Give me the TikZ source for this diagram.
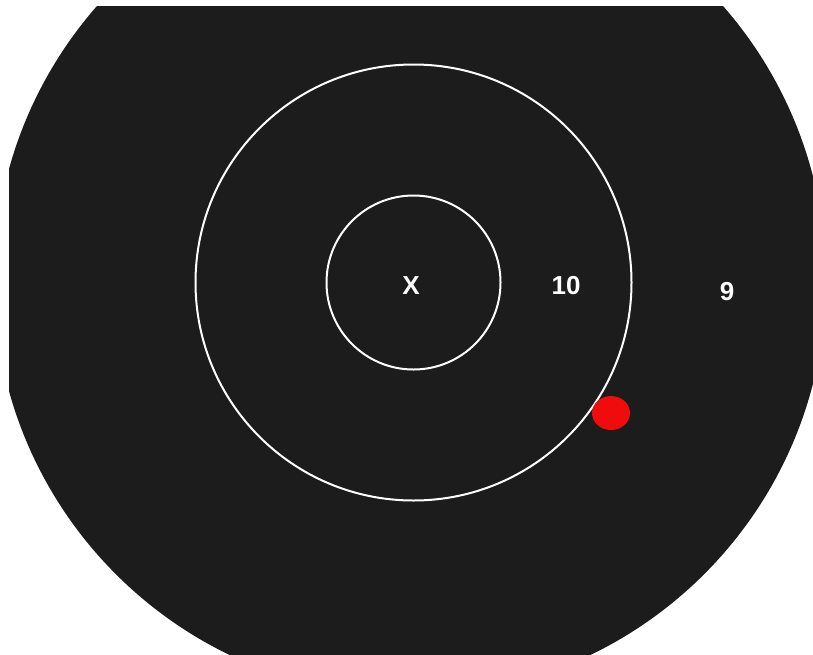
\documentclass[tikz,border=0pt]{standalone}
\usepackage{fontspec}
\setmainfont{Liberation Sans}
\definecolor{targetblack}{RGB}{28,28,28}
\definecolor{hitred}{RGB}{240,12,12}

\begin{document}
\begin{tikzpicture}[x=1pt, y=-1pt,
    ring/.style={draw=white, line width=2pt},
    score/.style={text=white, font=\fontsize{26}{26}\selectfont\bfseries, inner sep=0pt}]
    % Target face
    \useasboundingbox (0,0) rectangle (813,654);
    \fill[white] (0,0) rectangle (813,654);
    \begin{scope}
        \clip (9,6) rectangle (813,654);
        \fill[targetblack] (410,280) circle[radius=416];
    \end{scope}
    \draw[ring] (413.5,282.5) circle[radius=218];
    \draw[ring] (413.5,282.5) circle[radius=87];
    \node (labX) [score] at (411,286) {X};
    \node (lab10) [score] at (566,286) {10};
    \node (lab9) [score] at (727,292) {9};
    % Shot
    \fill[hitred] (611,413) ellipse[x radius=19, y radius=17];
\end{tikzpicture}
\end{document}
